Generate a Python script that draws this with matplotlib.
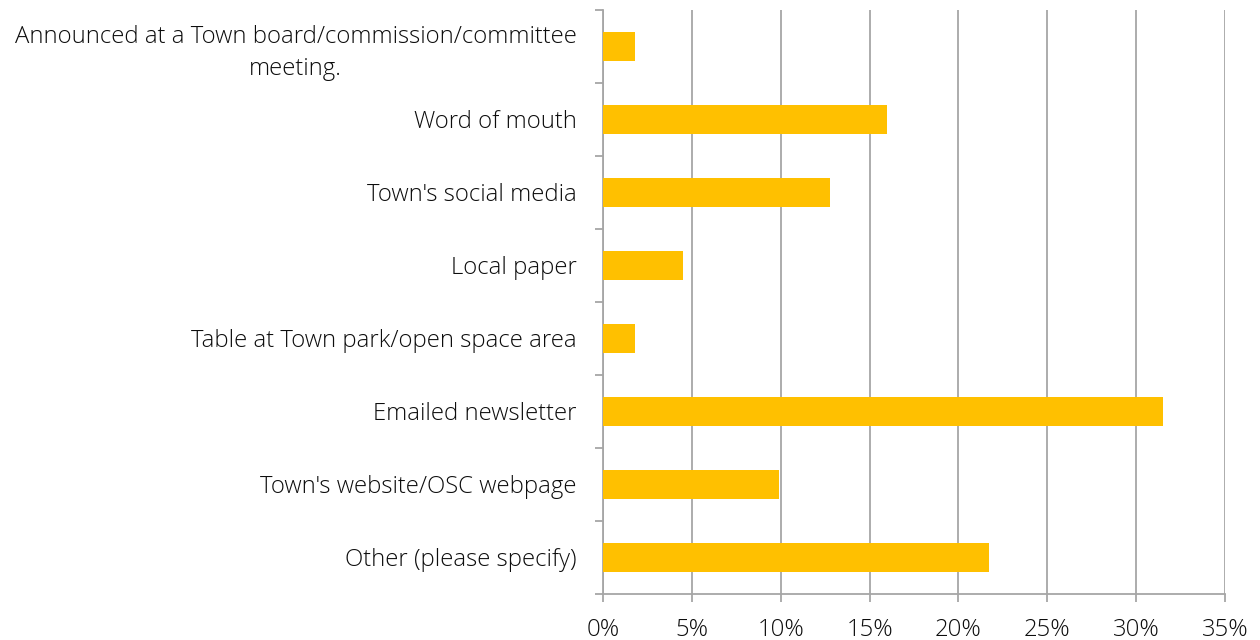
import numpy as np
import matplotlib.pyplot as plt
from matplotlib.ticker import FixedLocator

# Data (top to bottom)
categories = [
    "Announced at a Town board/commission/committee\nmeeting.",
    "Word of mouth",
    "Town's social media",
    "Local paper",
    "Table at Town park/open space area",
    "Emailed newsletter",
    "Town's website/OSC webpage",
    "Other (please specify)",
]
values = [1.8, 16.0, 12.8, 4.5, 1.8, 31.5, 9.9, 21.7]
xticks = [0, 5, 10, 15, 20, 25, 30, 35]

plt.rcParams['font.family'] = ['Open Sans', 'DejaVu Sans']

fig = plt.figure(figsize=(12.6, 6.4), dpi=100)
ax = fig.add_axes([0.4786, 0.0719, 0.4936, 0.9125])

pos = np.arange(len(categories))[::-1]
ax.barh(pos, values, height=0.39, color='#FFC000', zorder=3)

ax.set_xlim(0, 35)
ax.set_ylim(-0.5, len(categories) - 0.5)

ax.set_xticks(xticks)
ax.set_xticklabels([f"{t}%" for t in xticks], fontweight='light')
ax.set_yticks(pos)
ax.set_yticklabels(categories, ha='right', multialignment='center',
                   linespacing=1.4, fontweight='light')
ax.yaxis.set_minor_locator(FixedLocator(np.arange(-0.5, len(categories), 1.0)))

ax.xaxis.grid(True, color='#A6A6A6', linewidth=1.3, zorder=0)
for s in ['top', 'right']:
    ax.spines[s].set_visible(False)
for s in ['left', 'bottom']:
    ax.spines[s].set_color('#A6A6A6')
    ax.spines[s].set_linewidth(1.3)

ax.tick_params(axis='y', which='major', length=0, pad=19, labelsize=17.2, labelcolor='#0d0d0d')
ax.tick_params(axis='y', which='minor', length=6, width=1.3, color='#A6A6A6')
ax.tick_params(axis='x', length=6, width=1.3, color='#A6A6A6', pad=11, labelsize=17.2, labelcolor='#0d0d0d')

fig.savefig('out.png', dpi=100)
